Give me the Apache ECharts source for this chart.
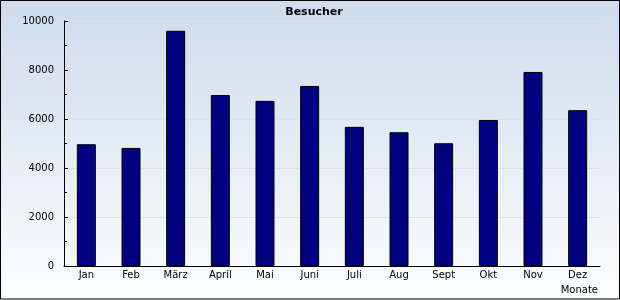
<!DOCTYPE html>
<html>
<head>
<meta charset="utf-8">
<script src="https://cdn.jsdelivr.net/npm/echarts@6/dist/echarts.min.js"></script>
<style>
html,body{margin:0;padding:0;background:#fff;}
#c{width:620px;height:300px;}
</style>
</head>
<body>
<div id="c"></div>
<script>
const categories = ['Jan','Feb','März','April','Mai','Juni','Juli','Aug','Sept','Okt','Nov','Dez'];
const besucher = [4970, 4820, 9600, 6980, 6740, 7350, 5680, 5460, 5010, 5960, 7920, 6360];
const titleText = 'Besucher';
const xName = 'Monate';

const chart = echarts.init(document.getElementById('c'), null, {renderer:'canvas'});
const font = 'DejaVu Sans';
chart.setOption({
  animation: false,
  backgroundColor: {
    type: 'linear', x: 0, y: 0, x2: 0, y2: 1,
    colorStops: [{offset: 0, color: '#cddbeb'}, {offset: 1, color: '#fdfeff'}]
  },
  title: {
    text: titleText, left: 309, top: 2, textAlign: 'center',
    textStyle: {fontFamily: font, fontSize: 11, fontWeight: 'bold', color: '#000'}
  },
  grid: {left: 64, right: 20, top: 21, bottom: 34, containLabel: false},
  xAxis: {
    type: 'category', data: categories,
    name: xName, nameLocation: 'end', nameGap: -2,
    nameTextStyle: {fontFamily: font, fontSize: 10, color: '#000', align: 'right', verticalAlign: 'top', padding: [19, 0, 0, 0]},
    axisLine: {lineStyle: {color: '#000', width: 1}},
    axisTick: {inside: true, length: 4, lineStyle: {color: '#000'}},
    axisLabel: {fontFamily: font, fontSize: 10, color: '#000', margin: 4}
  },
  yAxis: {
    type: 'value', min: 0, max: 10000, interval: 2000,
    axisLine: {show: true, lineStyle: {color: '#000', width: 1}},
    axisTick: {show: true, inside: true, length: 4, lineStyle: {color: '#000'}},
    minorTick: {show: true, splitNumber: 2, length: 3, lineStyle: {color: '#000'}},
    axisLabel: {fontFamily: font, fontSize: 10, color: '#000', margin: 10, formatter: function (v) { return String(v); }},
    splitLine: {show: true, lineStyle: {color: '#dde2ea', width: 1}}
  },
  series: [{
    type: 'bar', data: besucher, barWidth: 19,
    itemStyle: {color: '#000080', borderColor: '#000', borderWidth: 1}
  }],
  graphic: [{
    type: 'rect', silent: true, z: 100,
    shape: {x: 0.5, y: 0.5, width: 619, height: 298.5},
    style: {fill: 'none', stroke: '#000', lineWidth: 1}
  }]
});
</script>
</body>
</html>
